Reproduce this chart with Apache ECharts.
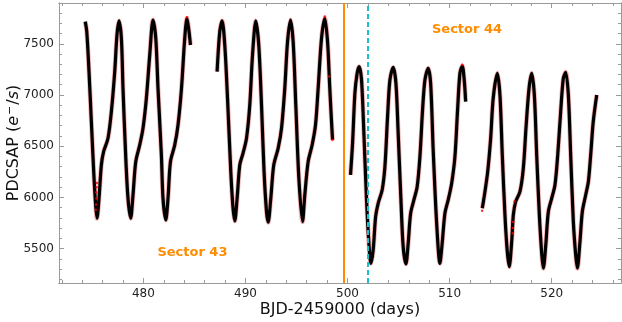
<!DOCTYPE html>
<html>
<head>
<meta charset="utf-8">
<script src="https://cdn.jsdelivr.net/npm/echarts@6/dist/echarts.min.js"></script>
<style>
html,body{margin:0;padding:0;background:#fff;}
#chart{width:622px;height:322px;}
</style>
</head>
<body>
<div id="chart"></div>
<script>
// ---- data ----
var segA_t = [474.30,474.45,474.67,474.90,475.13,475.32,475.45,475.65,475.88,476.10,476.53,476.86,477.19,477.41,477.61,477.84,478.00,478.26,478.49,478.75,478.98,479.25,479.64,479.96,480.29,480.62,480.94,481.21,481.43,481.76,481.92,482.19,482.41,482.65,483.07,483.39,483.73,484.05,484.27,484.47,484.61];
var segA_v = [7716,7618,7228,6739,6251,5926,5796,5991,6316,6446,6577,6837,7228,7586,7723,7554,7065,6414,5991,5796,6023,6349,6512,6675,6968,7391,7732,7554,7065,6414,5991,5779,5991,6349,6512,6707,7065,7554,7749,7618,7488];

var segB_t = [487.22,487.48,487.71,487.97,488.24,488.56,488.78,488.95,489.18,489.44,489.76,490.10,490.42,490.69,491.01,491.30,491.57,491.82,492.06,492.22,492.48,492.77,493.20,493.53,493.85,494.12,494.41,494.67,494.93,495.23,495.59,495.81,496.14,496.53,496.86,497.12,497.45,497.77,498.04,498.26,498.43,498.53];
var segB_v = [7228,7618,7723,7488,6968,6251,5894,5770,5991,6316,6431,6577,6902,7391,7723,7488,6902,6251,5860,5757,5991,6316,6479,6675,7065,7520,7732,7520,6902,6186,5763,6023,6349,6512,6707,7065,7554,7749,7520,7065,6739,6561];

var segC_t = [500.29,500.49,500.72,500.94,501.14,501.37,501.60,501.86,502.09,502.29,502.51,502.75,503.00,503.39,503.66,503.92,504.15,504.47,504.74,504.96,505.23,505.45,505.72,505.94,506.18,506.50,506.82,507.09,507.35,507.58,507.90,508.14,508.39,508.73,509.05,509.27,509.54,509.86,510.20,510.52,510.78,511.01,511.24,511.43,511.57];
var segC_v = [6219,6528,7017,7212,7276,7146,6626,5975,5552,5356,5486,5812,5942,6072,6300,6788,7146,7270,7114,6626,5975,5519,5350,5552,5845,5975,6104,6397,6854,7146,7261,7114,6463,5747,5356,5552,5845,5975,6138,6397,6854,7212,7283,7146,6935];

var segD_t = [513.20,513.46,513.73,514.02,514.27,514.67,514.93,515.16,515.42,515.65,515.84,516.08,516.24,516.47,516.89,517.22,517.48,517.78,518.04,518.30,518.53,518.79,519.03,519.18,519.42,519.67,520.00,520.32,520.59,520.88,521.14,521.37,521.63,521.86,522.12,522.35,522.51,522.77,523.00,523.33,523.59,523.82,524.07,524.41];
var segD_v = [5894,6056,6251,6577,6968,7212,7000,6414,5828,5470,5323,5567,5828,5958,6056,6284,6675,7065,7212,7000,6414,5828,5438,5308,5535,5860,5991,6121,6414,6837,7163,7222,7000,6414,5763,5438,5308,5567,5860,6023,6153,6414,6739,7000];

// red (unbinned) outliers visible around the curve
var red_t = [475.33,475.36,475.38,475.40,475.42,475.45,484.27,497.77,498.20,498.52,511.24,513.18,516.18,516.20,516.22,516.36];
var red_v = [5880,5930,6050,5990,6100,6140,7760,7765,7180,6560,7295,5870,5650,5700,5760,5960];

var sectorBoundary = 499.6;
var eventTime = 501.96;

var xRange = [471.73, 526.79];
var yRange = [5164, 7898];
var xMajor = [480, 490, 500, 510, 520];
var xMinor = [472,474,476,478,482,484,486,488,492,494,496,498,502,504,506,508,512,514,516,518,522,524,526];
var yMajor = [5500, 6000, 6500, 7000, 7500];
var yMinor = [5200,5300,5400,5600,5700,5800,5900,6100,6200,6300,6400,6600,6700,6800,6900,7100,7200,7300,7400,7600,7700,7800];

function zip(t, v){ return t.map(function(x,i){ return [x, v[i]]; }); }

var chart = echarts.init(document.getElementById('chart'), null, {renderer:'canvas'});
var FONT = 'DejaVu Sans';
var frameColor = '#9a9a9a';
function plain(v){ return String(v); }

function xAx(pos, ticks, len, labels, name){
  var a = {
    type:'value', position:pos, min:xRange[0], max:xRange[1],
    axisLine:{show:true, onZero:false, lineStyle:{color:frameColor, width:1}},
    axisTick:{show:true, inside:true, length:len, customValues:ticks, lineStyle:{color:frameColor}},
    axisLabel:{show:!!labels, customValues:ticks, formatter:plain, fontFamily:FONT, fontSize:12, color:'#222', margin:5},
    splitLine:{show:false}
  };
  if(name){ a.name=name; a.nameLocation='middle'; a.nameGap=19; a.nameMoveOverlap=false; a.nameTextStyle={fontFamily:FONT,fontSize:16,color:'#111'}; }
  return a;
}
function yAx(pos, ticks, len, labels, name){
  var a = {
    type:'value', position:pos, min:yRange[0], max:yRange[1],
    axisLine:{show:true, onZero:false, lineStyle:{color:frameColor, width:1}},
    axisTick:{show:true, inside:true, length:len, customValues:ticks, lineStyle:{color:frameColor}},
    axisLabel:{show:!!labels, customValues:ticks, formatter:plain, fontFamily:FONT, fontSize:12, color:'#222', margin:5},
    splitLine:{show:false}
  };
  if(name){
    a.name=name; a.nameLocation='middle'; a.nameGap=36; a.nameMoveOverlap=false;
    a.nameTextStyle={fontFamily:FONT,fontSize:16,color:'#111',
      rich:{
        it:{fontFamily:FONT,fontSize:16,fontStyle:'italic',color:'#111'},
        sup:{fontFamily:FONT,fontSize:11,color:'#111',verticalAlign:'top',padding:[0,1,7,1]},
        n:{fontFamily:FONT,fontSize:16,color:'#111'}
      }};
  }
  return a;
}

function curve(data){
  return [
    {type:'line', data:data, xAxisIndex:0, yAxisIndex:0, smooth:0.3, symbol:'none',
     lineStyle:{color:'#e00000', width:4.8, opacity:0.3}, silent:true, z:2},
    {type:'line', data:data, xAxisIndex:0, yAxisIndex:0, smooth:0.3, symbol:'none',
     lineStyle:{color:'#000', width:3.2}, silent:true, z:3}
  ];
}

var series = [].concat(
  curve(zip(segA_t, segA_v)),
  curve(zip(segB_t, segB_v)),
  curve(zip(segC_t, segC_v)),
  curve(zip(segD_t, segD_v)),
  [{type:'scatter', data:zip(red_t, red_v), xAxisIndex:0, yAxisIndex:0, symbolSize:2.5,
    itemStyle:{color:'#ff0000'}, z:4, silent:true},
   {type:'line', data:[], xAxisIndex:0, yAxisIndex:0, silent:true, z:5,
    markLine:{silent:true, symbol:['none','none'], label:{show:false},
      data:[
        {xAxis:sectorBoundary, lineStyle:{color:'#ff8c00', width:2, type:'solid'}},
        {xAxis:eventTime, lineStyle:{color:'#17becf', width:2, type:[5,3]}}
      ]}}]
);

chart.setOption({
  animation:false,
  backgroundColor:'#fff',
  grid:{left:59, right:1, top:3, bottom:39, containLabel:false, outerBoundsMode:'none'},
  xAxis:[
    xAx('bottom', xMajor, 5, true, 'BJD-2459000 (days)'),
    xAx('bottom', xMinor, 3, false),
    xAx('top', xMajor, 5, false),
    xAx('top', xMinor, 3, false)
  ],
  yAxis:[
    yAx('left', yMajor, 5, true, 'PDCSAP ({it|e}{sup|−}{n|/}{it|s})'),
    yAx('left', yMinor, 3, false),
    yAx('right', yMajor, 5, false),
    yAx('right', yMinor, 3, false)
  ],
  series:series
});

// sector annotations anchored in data coordinates
var p43 = chart.convertToPixel({xAxisIndex:0, yAxisIndex:0}, [484.8, 5460]);
var p44 = chart.convertToPixel({xAxisIndex:0, yAxisIndex:0}, [511.7, 7640]);
chart.setOption({
  graphic:[
    {type:'text', x:p43[0], y:p43[1], style:{text:'Sector 43', fill:'#ff8c00', font:'bold 13px "DejaVu Sans"', textAlign:'center', textVerticalAlign:'middle'}},
    {type:'text', x:p44[0], y:p44[1], style:{text:'Sector 44', fill:'#ff8c00', font:'bold 13px "DejaVu Sans"', textAlign:'center', textVerticalAlign:'middle'}}
  ]
});
</script>
</body>
</html>
